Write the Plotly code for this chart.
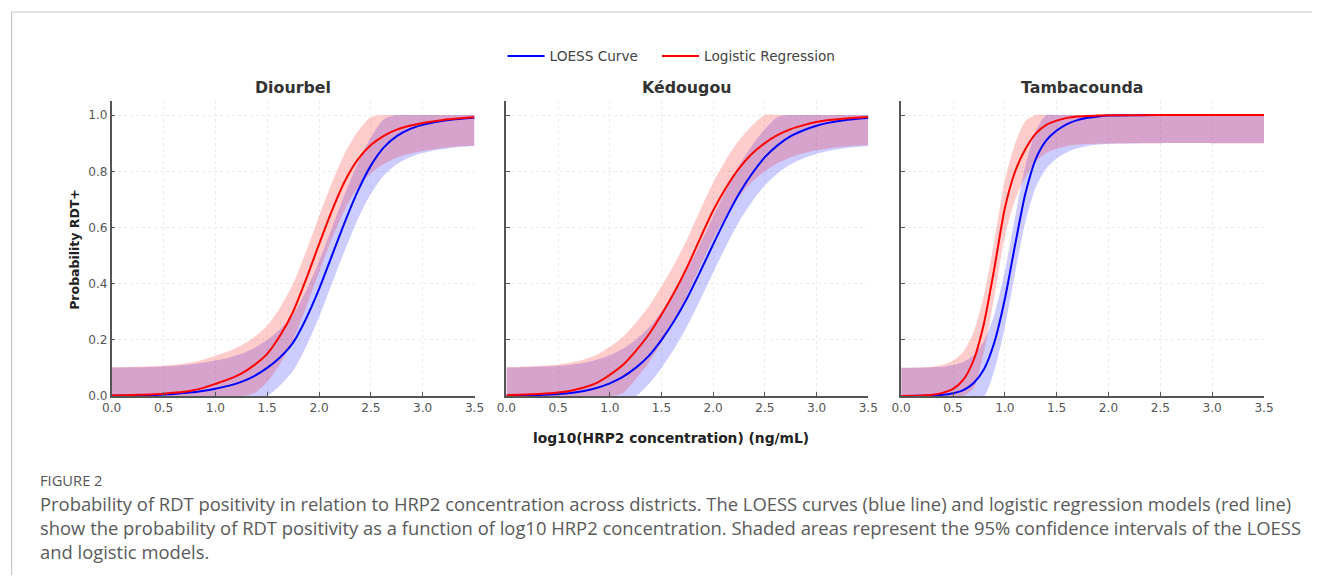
import plotly.graph_objects as go

# ---------------- data ----------------
districts = ["Diourbel", "Kédougou", "Tambacounda"]

x_grid_12 = [0, 0.125, 0.25, 0.375, 0.5, 0.625, 0.75, 0.875, 1.0, 1.125, 1.25, 1.375, 1.5, 1.625,
             1.75, 1.875, 2.0, 2.125, 2.25, 2.375, 2.5, 2.625, 2.75, 2.875, 3.0, 3.125, 3.25, 3.375, 3.5]
x_grid_3 = [0, 0.1, 0.2, 0.3, 0.4, 0.5, 0.6, 0.7, 0.8, 0.9, 1.0, 1.1, 1.2, 1.3, 1.4,
            1.5, 1.6, 1.7, 1.8, 1.9, 2.0, 2.5, 3.0, 3.5]

# Diourbel
diourbel_logit = [0.002, 0.003, 0.004, 0.0056, 0.008, 0.012, 0.018, 0.028, 0.043, 0.059, 0.08, 0.11, 0.15,
                  0.215, 0.30, 0.415, 0.54, 0.66, 0.765, 0.842, 0.893, 0.926, 0.948, 0.962, 0.972, 0.979,
                  0.985, 0.989, 0.992]
diourbel_logit_hi = [0.102, 0.103, 0.104, 0.1056, 0.108, 0.112, 0.118, 0.128, 0.143, 0.159, 0.18, 0.21, 0.25,
                     0.315, 0.40, 0.515, 0.64, 0.76, 0.865, 0.942, 0.993, 1, 1, 1, 1, 1, 1, 1, 1]
diourbel_logit_lo = [0, 0, 0, 0, 0, 0, 0, 0, 0, 0, 0, 0.01, 0.05, 0.115, 0.20, 0.315, 0.44, 0.56, 0.665,
                     0.742, 0.793, 0.826, 0.848, 0.862, 0.872, 0.879, 0.885, 0.889, 0.892]
diourbel_loess = [0.001, 0.0014, 0.002, 0.003, 0.005, 0.008, 0.012, 0.018, 0.026, 0.036, 0.05, 0.071, 0.10,
                  0.138, 0.19, 0.275, 0.38, 0.50, 0.62, 0.73, 0.82, 0.885, 0.925, 0.95, 0.965, 0.975,
                  0.982, 0.987, 0.99]
diourbel_loess_hi = [0.101, 0.1014, 0.102, 0.103, 0.105, 0.108, 0.112, 0.118, 0.126, 0.136, 0.15, 0.171, 0.20,
                     0.238, 0.29, 0.375, 0.48, 0.60, 0.72, 0.83, 0.92, 0.985, 1, 1, 1, 1, 1, 1, 1]
diourbel_loess_lo = [0, 0, 0, 0, 0, 0, 0, 0, 0, 0, 0, 0, 0, 0.038, 0.09, 0.175, 0.28, 0.40, 0.52, 0.63,
                     0.72, 0.785, 0.825, 0.85, 0.865, 0.875, 0.882, 0.887, 0.89]

# Kédougou
kedougou_logit = [0.003, 0.0042, 0.006, 0.0085, 0.012, 0.019, 0.03, 0.047, 0.075, 0.11, 0.16, 0.218, 0.29,
                  0.37, 0.46, 0.562, 0.66, 0.742, 0.81, 0.862, 0.90, 0.929, 0.95, 0.964, 0.975, 0.982,
                  0.987, 0.9906, 0.993]
kedougou_logit_hi = [0.103, 0.1042, 0.106, 0.1085, 0.112, 0.119, 0.13, 0.147, 0.175, 0.21, 0.26, 0.318, 0.39,
                     0.47, 0.56, 0.662, 0.76, 0.842, 0.91, 0.962, 1, 1, 1, 1, 1, 1, 1, 1, 1]
kedougou_logit_lo = [0, 0, 0, 0, 0, 0, 0, 0, 0, 0.01, 0.06, 0.118, 0.19, 0.27, 0.36, 0.462, 0.56, 0.642,
                     0.71, 0.762, 0.80, 0.829, 0.85, 0.864, 0.875, 0.882, 0.887, 0.8906, 0.893]
kedougou_loess = [0.001, 0.0017, 0.003, 0.0046, 0.007, 0.011, 0.018, 0.029, 0.045, 0.068, 0.10, 0.142, 0.20,
                  0.269, 0.35, 0.443, 0.54, 0.634, 0.72, 0.791, 0.85, 0.893, 0.925, 0.946, 0.962, 0.973,
                  0.981, 0.986, 0.99]
kedougou_loess_hi = [0.101, 0.1017, 0.103, 0.1046, 0.107, 0.111, 0.118, 0.129, 0.145, 0.168, 0.20, 0.242, 0.30,
                     0.369, 0.45, 0.543, 0.64, 0.734, 0.82, 0.891, 0.95, 0.993, 1, 1, 1, 1, 1, 1, 1]
kedougou_loess_lo = [0, 0, 0, 0, 0, 0, 0, 0, 0, 0, 0, 0.042, 0.10, 0.169, 0.25, 0.343, 0.44, 0.534, 0.62,
                     0.691, 0.75, 0.793, 0.825, 0.846, 0.862, 0.873, 0.881, 0.886, 0.89]

# Tambacounda
tamba_logit = [0.0003, 0.0008, 0.002, 0.0045, 0.011, 0.025, 0.058, 0.129, 0.261, 0.457, 0.668, 0.80,
               0.88, 0.935, 0.965, 0.98, 0.99, 0.995, 0.997, 0.998, 0.999, 1.0, 1.0, 1.0]
tamba_logit_hi = [0.1003, 0.1008, 0.102, 0.1045, 0.111, 0.125, 0.158, 0.229, 0.361, 0.557, 0.768, 0.90,
                  0.98, 1.0, 1.0, 1.0, 1.0, 1.0, 1.0, 1.0, 1.0, 1.0, 1.0, 1.0]
tamba_logit_lo = [0, 0, 0, 0, 0, 0, 0, 0.029, 0.161, 0.357, 0.568, 0.70, 0.78, 0.835, 0.865, 0.88,
                  0.89, 0.895, 0.897, 0.898, 0.899, 0.9, 0.9, 0.9]
tamba_loess = [0.0002, 0.0004, 0.0009, 0.002, 0.004, 0.010, 0.021, 0.046, 0.096, 0.192, 0.345, 0.54,
               0.723, 0.845, 0.91, 0.945, 0.968, 0.982, 0.99, 0.995, 0.998, 1.0, 1.0, 1.0]
tamba_loess_hi = [0.1002, 0.1004, 0.1009, 0.102, 0.104, 0.11, 0.121, 0.146, 0.196, 0.292, 0.445, 0.64,
                  0.823, 0.945, 1.0, 1.0, 1.0, 1.0, 1.0, 1.0, 1.0, 1.0, 1.0, 1.0]
tamba_loess_lo = [0, 0, 0, 0, 0, 0, 0, 0, 0, 0.092, 0.245, 0.44, 0.623, 0.745, 0.81, 0.845, 0.868,
                  0.882, 0.89, 0.895, 0.898, 0.9, 0.9, 0.9]

x_ticks = [0.0, 0.5, 1.0, 1.5, 2.0, 2.5, 3.0, 3.5]
y_ticks = [0.0, 0.2, 0.4, 0.6, 0.8, 1.0]

panels = [
    (x_grid_12, diourbel_loess, diourbel_loess_lo, diourbel_loess_hi,
     diourbel_logit, diourbel_logit_lo, diourbel_logit_hi),
    (x_grid_12, kedougou_loess, kedougou_loess_lo, kedougou_loess_hi,
     kedougou_logit, kedougou_logit_lo, kedougou_logit_hi),
    (x_grid_3, tamba_loess, tamba_loess_lo, tamba_loess_hi,
     tamba_logit, tamba_logit_lo, tamba_logit_hi),
]

# ---------------- layout geometry ----------------
W, H = 1322, 582
# the photographed page comes out slightly scaled/offset; map target pixels to paper
SX, OX, SY, OY = 0.988, 8.0, 0.988, 0.0
FS = 1 / 0.988


def fx(px):
    return min(1.0, max(0.0, (px - OX) / SX / W))


def fy(py):
    return min(1.0, max(0.0, 1 - (py - OY) / SY / H))


x_px = [(110, 474), (506, 869), (902, 1266)]
y_px = (101, 396)  # top, bottom

BLUE = "#0000ff"
RED = "#ff0000"
BLUE_FILL = "rgba(0,0,255,0.2)"
RED_FILL = "rgba(255,0,0,0.2)"
SPL = dict(shape="spline", smoothing=0.7)

fig = go.Figure()

for i, (xs, lo_m, lo_l, lo_h, lg_m, lg_l, lg_h) in enumerate(panels):
    xa = "x" if i == 0 else f"x{i+1}"
    ya = "y" if i == 0 else f"y{i+1}"
    common = dict(xaxis=xa, yaxis=ya, hoverinfo="skip", showlegend=False)
    fig.add_trace(go.Scatter(x=xs, y=lo_l, mode="lines", line=dict(width=0, **SPL), **common))
    fig.add_trace(go.Scatter(x=xs, y=lo_h, mode="lines", fill="tonexty", fillcolor=BLUE_FILL,
                             line=dict(width=0, **SPL), **common))
    fig.add_trace(go.Scatter(x=xs, y=lg_l, mode="lines", line=dict(width=0, **SPL), **common))
    fig.add_trace(go.Scatter(x=xs, y=lg_h, mode="lines", fill="tonexty", fillcolor=RED_FILL,
                             line=dict(width=0, **SPL), **common))
    fig.add_trace(go.Scatter(x=xs, y=lo_m, mode="lines", name="LOESS Curve", legendgroup="loess",
                             legend="legend", showlegend=(i == 0), line=dict(color=BLUE, width=2, **SPL),
                             xaxis=xa, yaxis=ya, hoverinfo="skip"))
    fig.add_trace(go.Scatter(x=xs, y=lg_m, mode="lines", name="Logistic Regression", legendgroup="logit",
                             legend="legend2", showlegend=(i == 0), line=dict(color=RED, width=2, **SPL),
                             xaxis=xa, yaxis=ya, hoverinfo="skip"))

tick_font = dict(family="DejaVu Sans", size=12 * FS, color="#555555")
layout_axes = {}
for i in range(3):
    xn = "xaxis" if i == 0 else f"xaxis{i+1}"
    yn = "yaxis" if i == 0 else f"yaxis{i+1}"
    x0, x1 = x_px[i]
    layout_axes[xn] = dict(
        domain=[fx(x0), fx(x1)], range=[0, 3.5], anchor="y" if i == 0 else f"y{i+1}",
        tickvals=x_ticks, ticktext=[f"{v:.1f}" for v in x_ticks],
        ticks="inside", ticklen=4, tickcolor="#555555", tickfont=tick_font,
        showline=True, linecolor="#555555", linewidth=1.5,
        showgrid=True, gridcolor="#ededed", griddash="dot", gridwidth=1,
        zeroline=False, fixedrange=True,
    )
    layout_axes[yn] = dict(
        domain=[fy(y_px[1]), fy(y_px[0])], range=[0, 1.05], anchor="x" if i == 0 else f"x{i+1}",
        tickvals=y_ticks, ticktext=[f"{v:.1f}" for v in y_ticks], showticklabels=(i == 0),
        ticks="inside", ticklen=4, tickcolor="#555555", tickfont=tick_font,
        showline=True, linecolor="#555555", linewidth=1.5,
        showgrid=True, gridcolor="#ededed", griddash="dot", gridwidth=1,
        zeroline=False, fixedrange=True,
    )

annotations = []
title_font = dict(family="DejaVu Sans", size=15.8, color="#333333")
for i, name in enumerate(districts):
    x0, x1 = x_px[i]
    annotations.append(dict(text=f"<b>{name}</b>", x=fx((x0 + x1) / 2), y=fy(88),
                            xref="paper", yref="paper", xanchor="center", yanchor="middle",
                            showarrow=False, font=title_font))

annotations.append(dict(text="<b>Probability RDT+</b>", x=fx(73), y=fy(249), xref="paper", yref="paper",
                        xanchor="center", yanchor="middle", textangle=-90, showarrow=False,
                        font=dict(family="DejaVu Sans", size=12.5, color="#222222")))
annotations.append(dict(text="<b>log10(HRP2 concentration) (ng/mL)</b>", x=fx(671.5), y=fy(438),
                        xref="paper", yref="paper", xanchor="center", yanchor="middle", showarrow=False,
                        font=dict(family="DejaVu Sans", size=13.8, color="#222222")))

caption_font = dict(family="Open Sans", size=18.4, color="#5a5a5a")
annotations.append(dict(text="FIGURE 2", x=fx(36.5), y=fy(480), xref="paper", yref="paper",
                        xanchor="left", yanchor="middle", showarrow=False,
                        font=dict(family="Open Sans", size=14.7, color="#555555")))
caption_lines = [
    "Probability of RDT positivity in relation to HRP2 concentration across districts. The LOESS curves (blue line) and logistic regression models (red line)",
    "show the probability of RDT positivity as a function of log10 HRP2 concentration. Shaded areas represent the 95% confidence intervals of the LOESS",
    "and logistic models.",
]
for k, line in enumerate(caption_lines):
    annotations.append(dict(text=line, x=fx(36.5), y=fy(504 + 24 * k), xref="paper", yref="paper",
                            xanchor="left", yanchor="middle", showarrow=False, font=caption_font))

shapes = [
    dict(type="line", xref="paper", yref="paper", x0=fx(9), x1=1, y0=fy(12), y1=fy(12),
         line=dict(color="#c8c8c8", width=1.2)),
    dict(type="line", xref="paper", yref="paper", x0=fx(9) + 0.6 / W, x1=fx(9) + 0.6 / W, y0=0, y1=fy(12),
         line=dict(color="#c8c8c8", width=1.2)),
]

legend_common = dict(orientation="h", xanchor="left", yanchor="middle", y=fy(56),
                     font=dict(family="DejaVu Sans", size=13.5 * FS, color="#444444"),
                     bgcolor="rgba(0,0,0,0)", itemwidth=37, borderwidth=0)

fig.update_layout(
    width=W, height=H, margin=dict(l=0, r=0, t=0, b=0),
    paper_bgcolor="white", plot_bgcolor="white",
    showlegend=True,
    legend=dict(x=fx(508) - 6 / W, **legend_common),
    legend2=dict(x=fx(663) - 6 / W, **legend_common),
    annotations=annotations, shapes=shapes,
    **layout_axes,
)

fig.write_html(
    "out.html",
    config={"displayModeBar": False},
    post_script="document.body.style.margin='0';document.body.style.overflow='hidden';",
)
